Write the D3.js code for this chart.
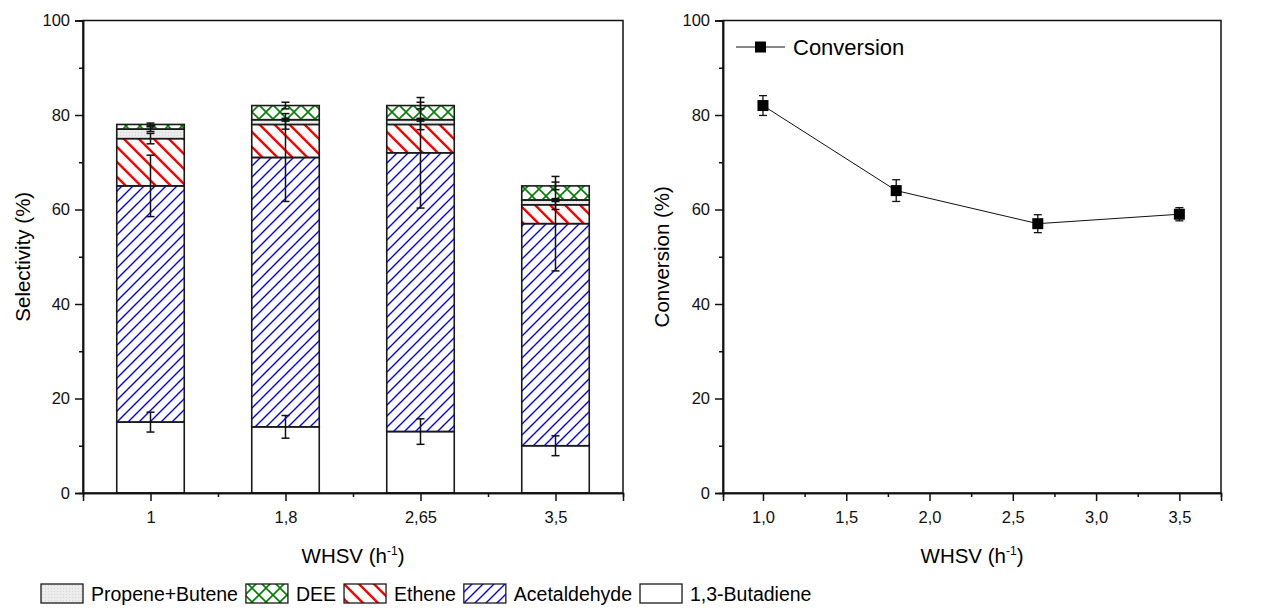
<!DOCTYPE html>
<html lang="en">
<head>
    <meta charset="UTF-8">
    <title>Selectivity and Conversion vs WHSV</title>
    <script src="https://d3js.org/d3.v7.min.js"></script>
    <style>
        body { margin: 0; background: #fff; }
        text { font-family: "Liberation Sans", Arial, sans-serif; }
    </style>
</head>
<body>
    <svg width="1266" height="611"></svg>

    <script>
        // Left chart: stacked selectivities per WHSV
        const categories = ["1", "1,8", "2,65", "3,5"];
        const butadiene = [15, 14, 13, 10];
        const acetaldehyde = [50, 57, 59, 47];
        const ethene = [10, 7, 6, 4];
        const propeneButene = [2, 1, 1, 1];
        const dee = [1, 3, 3, 3];
        // error bars (drawn at the cumulative top of each segment)
        const butadieneErr = [2.1, 2.4, 2.7, 2.1];
        const acetaldehydeErr = [6.5, 9.3, 11.7, 10];
        const etheneErr = [1.1, 1.0, 1.1, 1.0];
        const propeneButeneErr = [0.5, 0.3, 0.3, 0.3];
        const deeErr = [0.3, 0.7, 0.7, 0.8];

        // Right chart: conversion
        const whsv = [1.0, 1.8, 2.65, 3.5];
        const conversion = [82, 64, 57, 59];
        const conversionErr = [2.1, 2.3, 1.9, 1.4];

        const yTicks = [0, 20, 40, 60, 80, 100];
        const yMinorTicks = [10, 30, 50, 70, 90];
        const convTicks = [1.0, 1.5, 2.0, 2.5, 3.0, 3.5];
        const convMinorTicks = [1.25, 1.75, 2.25, 2.75, 3.25];

        const svg = d3.select("svg");
        const font = 16.5;

        // patterns
        const defs = svg.append("defs");
        const pBlue = defs.append("pattern").attr("id", "p-acet")
            .attr("patternUnits", "userSpaceOnUse").attr("width", 11).attr("height", 11);
        pBlue.append("path").attr("d", "M-2,2 L2,-2 M0,11 L11,0 M9,13 L13,9")
            .attr("stroke", "#0000ff").attr("stroke-width", 1.4);

        const pRed = defs.append("pattern").attr("id", "p-ethene")
            .attr("patternUnits", "userSpaceOnUse").attr("width", 15).attr("height", 15);
        pRed.append("path").attr("d", "M-3,12 L3,18 M0,0 L15,15 M12,-3 L18,3")
            .attr("stroke", "#ff0000").attr("stroke-width", 2.4);

        const pGreen = defs.append("pattern").attr("id", "p-dee")
            .attr("patternUnits", "userSpaceOnUse").attr("width", 14).attr("height", 14);
        pGreen.append("path").attr("d", "M0,0 L14,14 M0,14 L14,0")
            .attr("stroke", "#008000").attr("stroke-width", 1.6);

        const pGray = defs.append("pattern").attr("id", "p-pb")
            .attr("patternUnits", "userSpaceOnUse").attr("width", 3).attr("height", 3);
        pGray.append("rect").attr("width", 3).attr("height", 3).attr("fill", "#ececec");
        pGray.append("rect").attr("width", 1).attr("height", 1).attr("fill", "#d4d4d4");

        const series = [
            {name: "1,3-Butadiene", values: butadiene, err: butadieneErr, fill: "#ffffff"},
            {name: "Acetaldehyde", values: acetaldehyde, err: acetaldehydeErr, fill: "url(#p-acet)"},
            {name: "Ethene", values: ethene, err: etheneErr, fill: "url(#p-ethene)"},
            {name: "Propene+Butene", values: propeneButene, err: propeneButeneErr, fill: "url(#p-pb)"},
            {name: "DEE", values: dee, err: deeErr, fill: "url(#p-dee)"}
        ];

        // ---------- left chart ----------
        const L = {left: 83, right: 623, top: 20.5, bottom: 493};
        const x1 = d3.scaleLinear().domain([0.5, 4.5]).range([L.left, L.right]);
        const y1 = d3.scaleLinear().domain([0, 100]).range([L.bottom, L.top]);
        const barW = x1(1.25) - x1(0.75);

        const left = svg.append("g");

        // stacked segments
        const stackRows = categories.map((c, i) => {
            const row = {i: i};
            series.forEach(s => row[s.name] = s.values[i]);
            return row;
        });
        const stacked = d3.stack().keys(series.map(s => s.name))(stackRows);

        stacked.forEach((layer, k) => {
            left.append("g").selectAll("rect")
                .data(layer)
                .join("rect")
                .attr("x", d => x1(d.data.i + 1) - barW / 2)
                .attr("y", d => y1(d[1]))
                .attr("width", barW)
                .attr("height", d => y1(d[0]) - y1(d[1]))
                .attr("fill", series[k].fill)
                .attr("stroke", "#1a1a1a")
                .attr("stroke-width", 1.6);
        });

        // error bars
        stacked.forEach((layer, k) => {
            const g = left.append("g").attr("stroke", "#111").attr("stroke-width", 1.5);
            layer.forEach(d => {
                const cx = x1(d.data.i + 1);
                const e = series[k].err[d.data.i];
                const yt = y1(d[1] + e), yb = y1(d[1] - e);
                g.append("line").attr("x1", cx).attr("x2", cx).attr("y1", yt).attr("y2", yb);
                g.append("line").attr("x1", cx - 4).attr("x2", cx + 4).attr("y1", yt).attr("y2", yt);
                g.append("line").attr("x1", cx - 4).attr("x2", cx + 4).attr("y1", yb).attr("y2", yb);
            });
        });

        function styleAxis(g) {
            g.selectAll("path").attr("stroke", "#111").attr("stroke-width", 1.5);
            g.selectAll("line").attr("stroke", "#111").attr("stroke-width", 1.5);
            g.selectAll("text").attr("font-size", font).attr("fill", "#111")
                .style("font-family", "'Liberation Sans', Arial, sans-serif");
        }

        // frame
        left.append("rect")
            .attr("x", L.left).attr("y", L.top)
            .attr("width", L.right - L.left).attr("height", L.bottom - L.top)
            .attr("fill", "none").attr("stroke", "#111").attr("stroke-width", 1.5);

        left.append("g").attr("transform", `translate(0,${L.bottom})`)
            .call(d3.axisBottom(x1).tickValues([1, 2, 3, 4]).tickSizeOuter(0).tickSize(8).tickPadding(10)
                .tickFormat(d => categories[d - 1]))
            .call(styleAxis);
        left.append("g").attr("transform", `translate(0,${L.bottom})`)
            .call(d3.axisBottom(x1).tickValues([1.5, 2.5, 3.5]).tickSizeOuter(0).tickSize(4).tickFormat(""))
            .call(styleAxis);
        left.append("g").attr("transform", `translate(${L.left},0)`)
            .call(d3.axisLeft(y1).tickValues(yTicks).tickSizeOuter(0).tickSize(8).tickPadding(5))
            .call(styleAxis);
        left.append("g").attr("transform", `translate(${L.left},0)`)
            .call(d3.axisLeft(y1).tickValues(yMinorTicks).tickSizeOuter(0).tickSize(4).tickFormat(""))
            .call(styleAxis);

        left.append("text")
            .attr("transform", `translate(30,${(L.top + L.bottom) / 2}) rotate(-90)`)
            .attr("text-anchor", "middle")
            .attr("font-size", 20.5)
            .text("Selectivity (%)");

        function whsvLabel(g, cx) {
            const t = g.append("text").attr("x", cx).attr("y", 563)
                .attr("text-anchor", "middle").attr("font-size", 20.5);
            t.append("tspan").text("WHSV (h");
            t.append("tspan").attr("font-size", 12).attr("dy", -8).text("-1");
            t.append("tspan").attr("dy", 8).text(")");
        }
        whsvLabel(left, (L.left + L.right) / 2);

        // ---------- right chart ----------
        const R = {left: 723, right: 1221, top: 20.5, bottom: 493};
        const x2 = d3.scaleLinear().domain([0.76, 3.75]).range([R.left, R.right]);
        const y2 = d3.scaleLinear().domain([0, 100]).range([R.bottom, R.top]);

        const right = svg.append("g");
        right.append("rect")
            .attr("x", R.left).attr("y", R.top)
            .attr("width", R.right - R.left).attr("height", R.bottom - R.top)
            .attr("fill", "none").attr("stroke", "#111").attr("stroke-width", 1.5);

        const comma = d => d3.format(".1f")(d).replace(".", ",");
        right.append("g").attr("transform", `translate(0,${R.bottom})`)
            .call(d3.axisBottom(x2).tickValues(convTicks).tickSizeOuter(0).tickSize(8).tickPadding(10)
                .tickFormat(comma))
            .call(styleAxis);
        right.append("g").attr("transform", `translate(0,${R.bottom})`)
            .call(d3.axisBottom(x2).tickValues(convMinorTicks).tickSizeOuter(0).tickSize(4).tickFormat(""))
            .call(styleAxis);
        right.append("g").attr("transform", `translate(${R.left},0)`)
            .call(d3.axisLeft(y2).tickValues(yTicks).tickSizeOuter(0).tickSize(8).tickPadding(5))
            .call(styleAxis);
        right.append("g").attr("transform", `translate(${R.left},0)`)
            .call(d3.axisLeft(y2).tickValues(yMinorTicks).tickSizeOuter(0).tickSize(4).tickFormat(""))
            .call(styleAxis);

        const convData = whsv.map((w, i) => ({w: w, c: conversion[i], e: conversionErr[i]}));

        right.append("path")
            .datum(convData)
            .attr("fill", "none").attr("stroke", "#111").attr("stroke-width", 1)
            .attr("d", d3.line().x(d => x2(d.w)).y(d => y2(d.c)));

        const eg = right.append("g").attr("stroke", "#111").attr("stroke-width", 1.3);
        convData.forEach(d => {
            const cx = x2(d.w), yt = y2(d.c + d.e), yb = y2(d.c - d.e);
            eg.append("line").attr("x1", cx).attr("x2", cx).attr("y1", yt).attr("y2", yb);
            eg.append("line").attr("x1", cx - 4).attr("x2", cx + 4).attr("y1", yt).attr("y2", yt);
            eg.append("line").attr("x1", cx - 4).attr("x2", cx + 4).attr("y1", yb).attr("y2", yb);
        });

        right.selectAll("rect.marker")
            .data(convData)
            .join("rect")
            .attr("class", "marker")
            .attr("x", d => x2(d.w) - 5.5)
            .attr("y", d => y2(d.c) - 5.5)
            .attr("width", 11).attr("height", 11)
            .attr("fill", "#000");

        right.append("text")
            .attr("transform", `translate(669,${(R.top + R.bottom) / 2}) rotate(-90)`)
            .attr("text-anchor", "middle")
            .attr("font-size", 20.5)
            .text("Conversion (%)");
        whsvLabel(right, (R.left + R.right) / 2);

        // right legend
        const rl = right.append("g");
        rl.append("line").attr("x1", 736).attr("x2", 785).attr("y1", 47).attr("y2", 47)
            .attr("stroke", "#111").attr("stroke-width", 1);
        rl.append("rect").attr("x", 755).attr("y", 41.5).attr("width", 11).attr("height", 11).attr("fill", "#000");
        rl.append("text").attr("x", 793).attr("y", 55).attr("font-size", 22).text("Conversion");

        // ---------- bottom legend ----------
        const legendOrder = [3, 4, 2, 1, 0];
        const lg = svg.append("g");
        let lx = 41;
        legendOrder.forEach(k => {
            const s = series[k];
            lg.append("rect").attr("x", lx).attr("y", 584).attr("width", 42).attr("height", 19)
                .attr("fill", s.fill).attr("stroke", "#1a1a1a").attr("stroke-width", 1.3);
            const t = lg.append("text").attr("x", lx + 50).attr("y", 600.5)
                .attr("font-size", 19.5).text(s.name);
            lx += 50 + t.node().getComputedTextLength() + 8;
        });
    </script>
</body>
</html>
